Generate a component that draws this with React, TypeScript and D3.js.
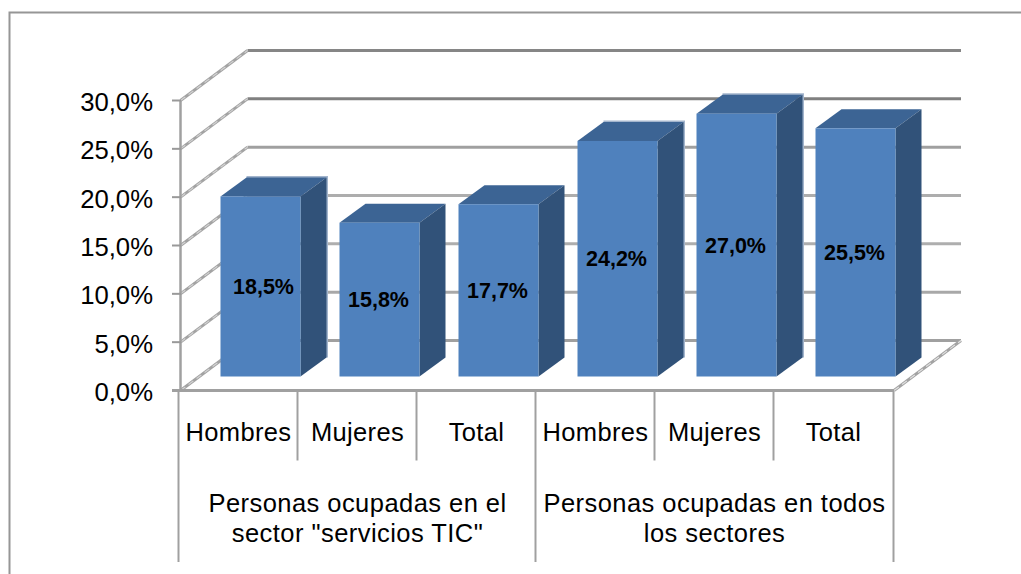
import * as d3 from 'd3'
import { useRef, useEffect } from 'react'

const categories = ['Hombres', 'Mujeres', 'Total', 'Hombres', 'Mujeres', 'Total']
const values = [18.5, 15.8, 17.7, 24.2, 27.0, 25.5]
const groups = [
    ['Personas ocupadas en el', 'sector "servicios TIC"'],
    ['Personas ocupadas en todos', 'los sectores']
]
const yTicks = [0, 5, 10, 15, 20, 25, 30]
const gridColors = ['#a0a0a0', '#a8a8a8', '#aeaeae', '#adadad', '#a0a0a0', '#808080', '#868686']
// these bars have a pale edge along the back of the box
const paleEdgeBars = [0, 3, 4]

const fmt = (v: number) => v.toFixed(1).replace('.', ',') + '%'
const font = '"Liberation Sans", Arial, sans-serif'

export default function App() {
    const svgRef = useRef<SVGSVGElement>(null)

    useEffect(() => {
        const svg = d3.select(svgRef.current)
        svg.selectAll('*').remove()

        // depth of the 3d box, and of the bars inside it
        const depth = { x: 67, y: -50 }
        const bar = { dx: 22.5, side: 26, rise: -19 }

        const x = d3.scaleBand<number>()
            .domain(categories.map((_, i) => i))
            .range([178.5, 892.5])
            .padding(0)
        const y = d3.scaleLinear().domain([0, 30]).range([390.5, 100.5])
        const yBar = d3.scaleLinear().domain([0, 30]).range([376.5, 84.5])
        const barWidth = 80
        const barLeft = (i: number) => x(i)! + (x.bandwidth() - barWidth) / 2 + bar.dx

        // outer frame
        svg.append('path')
            .attr('d', 'M1021,12.5H9.5V574')
            .attr('fill', 'none')
            .attr('stroke', '#969696')
            .attr('stroke-width', 2)

        // back wall
        svg.append('g').selectAll('line')
            .data(yTicks)
            .join('line')
            .attr('x1', 180.5 + depth.x)
            .attr('x2', 894 + depth.x)
            .attr('y1', d => y(d) + depth.y)
            .attr('y2', d => y(d) + depth.y)
            .attr('stroke', (_, i) => gridColors[i])
            .attr('stroke-width', 3)

        // side wall, the mottled look of the diagonal lines
        const diag = svg.append('g').selectAll('g')
            .data(yTicks)
            .join('g')
        diag.append('line')
            .attr('x1', 180.5)
            .attr('x2', 180.5 + depth.x)
            .attr('y1', d => y(d))
            .attr('y2', d => y(d) + depth.y)
            .attr('stroke', '#a3a3a3')
            .attr('stroke-width', 3)
        diag.append('line')
            .attr('x1', 180.5)
            .attr('x2', 180.5 + depth.x)
            .attr('y1', d => y(d))
            .attr('y2', d => y(d) + depth.y)
            .attr('stroke', '#d2d2d2')
            .attr('stroke-width', 1.2)
            .attr('stroke-dasharray', '6 4')

        // floor, right edge
        svg.append('line')
            .attr('x1', 894).attr('y1', y(0))
            .attr('x2', 894 + depth.x).attr('y2', y(0) + depth.y)
            .attr('stroke', '#a3a3a3')
            .attr('stroke-width', 3)
        svg.append('line')
            .attr('x1', 894).attr('y1', y(0))
            .attr('x2', 894 + depth.x).attr('y2', y(0) + depth.y)
            .attr('stroke', '#e0e0e0')
            .attr('stroke-width', 1.2)
            .attr('stroke-dasharray', '6 4')

        // bars
        const bars = svg.append('g').selectAll('g')
            .data(values)
            .join('g')
        bars.append('path')
            .attr('fill', 'none')
            .attr('stroke', (_, i) => paleEdgeBars.includes(i) ? '#a3b5cd' : 'none')
            .attr('stroke-width', 3)
            .attr('d', (d, i) => {
                const l = barLeft(i) + bar.side, t = yBar(d) + bar.rise
                return `M${l},${t}H${l + barWidth}V${yBar(0) + bar.rise}`
            })
        bars.append('path')
            .attr('fill', '#3c6494')
            .attr('d', (d, i) => {
                const l = barLeft(i), t = yBar(d)
                return `M${l},${t}L${l + bar.side},${t + bar.rise}H${l + barWidth + bar.side}L${l + barWidth},${t}Z`
            })
        bars.append('path')
            .attr('fill', '#315279')
            .attr('d', (d, i) => {
                const r = barLeft(i) + barWidth, t = yBar(d), b = yBar(0)
                return `M${r},${t}L${r + bar.side},${t + bar.rise}V${b + bar.rise}L${r},${b}Z`
            })
        bars.append('rect')
            .attr('x', (_, i) => barLeft(i))
            .attr('y', d => yBar(d))
            .attr('width', barWidth)
            .attr('height', d => yBar(0) - yBar(d))
            .attr('fill', '#4f81bd')

        // axes
        svg.append('line')
            .attr('x1', 180.5).attr('x2', 180.5)
            .attr('y1', y(30)).attr('y2', y(0))
            .attr('stroke', '#a0a0a0')
            .attr('stroke-width', 2.5)
        svg.append('g').selectAll('line')
            .data(yTicks)
            .join('line')
            .attr('x1', 172).attr('x2', 181)
            .attr('y1', d => y(d)).attr('y2', d => y(d))
            .attr('stroke', '#999999')
            .attr('stroke-width', 2)
        svg.append('line')
            .attr('x1', 172).attr('x2', 894)
            .attr('y1', y(0)).attr('y2', y(0))
            .attr('stroke', '#a0a0a0')
            .attr('stroke-width', 3)

        // category separators, long ones between the two groups
        svg.append('g').selectAll('line')
            .data(d3.range(categories.length + 1))
            .join('line')
            .attr('x1', i => i === 6 ? 893.5 : x(i)!)
            .attr('x2', i => i === 6 ? 893.5 : x(i)!)
            .attr('y1', y(0))
            .attr('y2', i => i % 3 === 0 ? 562 : 460.5)
            .attr('stroke', '#a0a0a0')
            .attr('stroke-width', 2)

        const text = svg.append('g')
            .attr('font-family', font)
            .attr('fill', '#000')

        text.selectAll('.tick')
            .data(yTicks)
            .join('text')
            .attr('class', 'tick')
            .attr('x', 153)
            .attr('y', d => y(d) + 10.5)
            .attr('text-anchor', 'end')
            .attr('font-size', 25.7)
            .text(d => fmt(d))

        text.selectAll('.cat')
            .data(categories)
            .join('text')
            .attr('class', 'cat')
            .attr('x', (_, i) => x(i)! + x.bandwidth() / 2 + 0.5)
            .attr('y', 441)
            .attr('text-anchor', 'middle')
            .attr('font-size', 25.5)
            .attr('letter-spacing', 0.35)
            .text(d => d)

        groups.forEach((lines, g) => {
            text.selectAll(`.group${g}`)
                .data(lines)
                .join('text')
                .attr('class', `group${g}`)
                .attr('x', x(g * 3 + 1)! + x.bandwidth() / 2 + 0.5)
                .attr('y', (_, i) => 512 + i * 30)
                .attr('text-anchor', 'middle')
                .attr('font-size', 25.5)
                .attr('letter-spacing', 0.45)
                .text(d => d)
        })

        text.selectAll('.val')
            .data(values)
            .join('text')
            .attr('class', 'val')
            .attr('x', (_, i) => barLeft(i) + barWidth / 2 + (i === 0 ? 3 : -1))
            .attr('y', d => (yBar(d) + yBar(0)) / 2 + 7.5)
            .attr('text-anchor', 'middle')
            .attr('font-size', 21.5)
            .attr('font-weight', 'bold')
            .text(d => fmt(d))
    }, [])

    return (
        <svg
            ref={svgRef}
            width={1021}
            height={574}
            viewBox="0 0 1021 574"
            style={{ display: 'block', position: 'absolute', left: 0, top: 0, background: '#fff' }}
        />
    )
}
